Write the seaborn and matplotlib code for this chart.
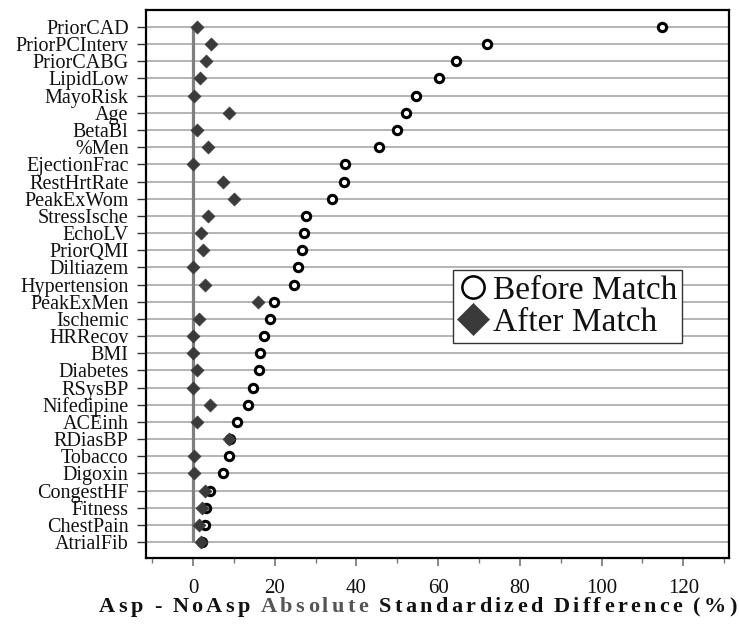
import matplotlib
matplotlib.use("Agg")
import matplotlib.pyplot as plt
import numpy as np
import pandas as pd
import seaborn as sns
from matplotlib.lines import Line2D
from matplotlib.font_manager import FontProperties
from matplotlib.ticker import MultipleLocator

covariates = [
    "PriorCAD", "PriorPCInterv", "PriorCABG", "LipidLow", "MayoRisk", "Age",
    "BetaBl", "%Men", "EjectionFrac", "RestHrtRate", "PeakExWom", "StressIsche",
    "EchoLV", "PriorQMI", "Diltiazem", "Hypertension", "PeakExMen", "Ischemic",
    "HRRecov", "BMI", "Diabetes", "RSysBP", "Nifedipine", "ACEinh", "RDiasBP",
    "Tobacco", "Digoxin", "CongestHF", "Fitness", "ChestPain", "AtrialFib",
]
before_match = [
    114.7, 71.9, 64.5, 60.1, 54.5, 52.1, 49.9, 45.6, 37.2, 37.0, 34.1, 27.7,
    27.2, 26.8, 25.6, 24.8, 19.8, 18.8, 17.4, 16.4, 16.2, 14.6, 13.5, 10.8,
    9.1, 8.7, 7.3, 4.2, 3.3, 2.9, 2.2,
]
after_match = [
    0.9, 4.3, 3.1, 1.7, 0.2, 8.9, 0.9, 3.7, 0.0, 7.4, 10.1, 3.7,
    2.0, 2.5, 0.0, 2.9, 16.0, 1.5, 0.0, 0.0, 0.9, 0.0, 4.2, 1.1,
    8.9, 0.2, 0.2, 2.9, 2.1, 1.5, 2.0,
]
x_ticks = [0, 20, 40, 60, 80, 100, 120]
legend_labels = ["Before Match", "After Match"]

# axis title words and their colours
xlabel_words = [
    ("Asp", "#111111"),
    ("-", "#111111"),
    ("NoAsp", "#111111"),
    ("Absolute", "#555555"),
    ("Standardized", "#111111"),
    ("Difference", "#111111"),
    ("(%)", "#111111"),
]

sns.set_theme(style="white")
plt.rcParams["font.family"] = ["Liberation Serif", "DejaVu Serif"]

W, H = 739, 627
fig = plt.figure(figsize=(W / 100, H / 100), dpi=100)
ax = fig.add_axes([146 / W, 69 / H, 583 / W, 548 / H])

df = pd.DataFrame({"covariate": covariates,
                   "before": before_match,
                   "after": after_match})

sns.stripplot(data=df, x="before", y="covariate", order=covariates,
              jitter=False, marker="o", size=6.0, color="white",
              edgecolor="black", linewidth=2.2, ax=ax, zorder=3)
sns.stripplot(data=df, x="after", y="covariate", order=covariates,
              jitter=False, marker="D", size=6.6, color="#3a3a3a",
              edgecolor="#3a3a3a", linewidth=0.5, ax=ax, zorder=4)

# zero reference line spanning the covariate rows
ax.plot([0, 0], [covariates[0], covariates[-1]], color="#808080",
        lw=2.3, zorder=1.5, solid_capstyle="butt")

ax.set_xlim(-11.5, 131.2)
ax.set_ylim(len(covariates) - 1 + 0.93, -0.99)
ax.set_xticks(x_ticks)
ax.xaxis.set_minor_locator(MultipleLocator(10))
ax.set_xlabel("")
ax.set_ylabel("")

ax.set_axisbelow(True)
ax.grid(axis="y", color="#a0a0a0", lw=1.1)
ax.grid(axis="x", visible=False)

for sp in ax.spines.values():
    sp.set_visible(True)
    sp.set_color("black")
    sp.set_linewidth(1.6)

ax.tick_params(axis="y", left=True, length=6.5, width=1.0, color="#333333",
               pad=6, labelsize=14.5, labelcolor="#111111", direction="out")
ax.tick_params(axis="x", which="major", bottom=True, length=6, width=1.2,
               color="#777777", pad=9, labelsize=15, labelcolor="#111111",
               direction="out")
ax.tick_params(axis="x", which="minor", bottom=True, length=3.5, width=1.0,
               color="#777777", direction="out")

handles = [
    Line2D([], [], ls="none", marker="o", markersize=16, mfc="white",
           mec="black", mew=1.8),
    Line2D([], [], ls="none", marker="D", markersize=16.5, mfc="#3a3a3a",
           mec="#3a3a3a", mew=0.5),
]
leg = ax.legend(handles, legend_labels, loc="upper left",
                bbox_to_anchor=(0.527, 0.5255), fontsize=24,
                frameon=True, fancybox=False, framealpha=1,
                edgecolor="#333333", handlelength=0.9, handletextpad=0.15,
                borderpad=0.15, labelspacing=0.05, borderaxespad=0)
leg.get_frame().set_linewidth(1.0)
for t in leg.get_texts():
    t.set_color("#111111")

# letter-spaced axis title, drawn character by character
fig.canvas.draw()
renderer = fig.canvas.get_renderer()
prop = FontProperties(family="Liberation Serif", weight="bold", size=16)
w_ref = renderer.get_text_width_height_descent("HH", prop, ismath=False)[0]


def advance(ch):
    w = renderer.get_text_width_height_descent("H" + ch + "H", prop,
                                               ismath=False)[0]
    return w - w_ref


x_start, x_end, word_gap = 99, 737, 11
word_widths = [[advance(c) for c in w] for w, _ in xlabel_words]
n_inner = sum(len(w) - 1 for w, _ in xlabel_words)
natural = sum(sum(ws) for ws in word_widths)
letter_gap = (x_end - x_start - natural
              - word_gap * (len(xlabel_words) - 1)) / n_inner

x = x_start
for (word, col), ws in zip(xlabel_words, word_widths):
    for i, (c, w) in enumerate(zip(word, ws)):
        fig.text(x / W, 15 / H, c, ha="left", va="baseline",
                 fontproperties=prop, color=col)
        x += w + (letter_gap if i < len(word) - 1 else 0)
    x += word_gap

fig.savefig("out.png", dpi=100)
